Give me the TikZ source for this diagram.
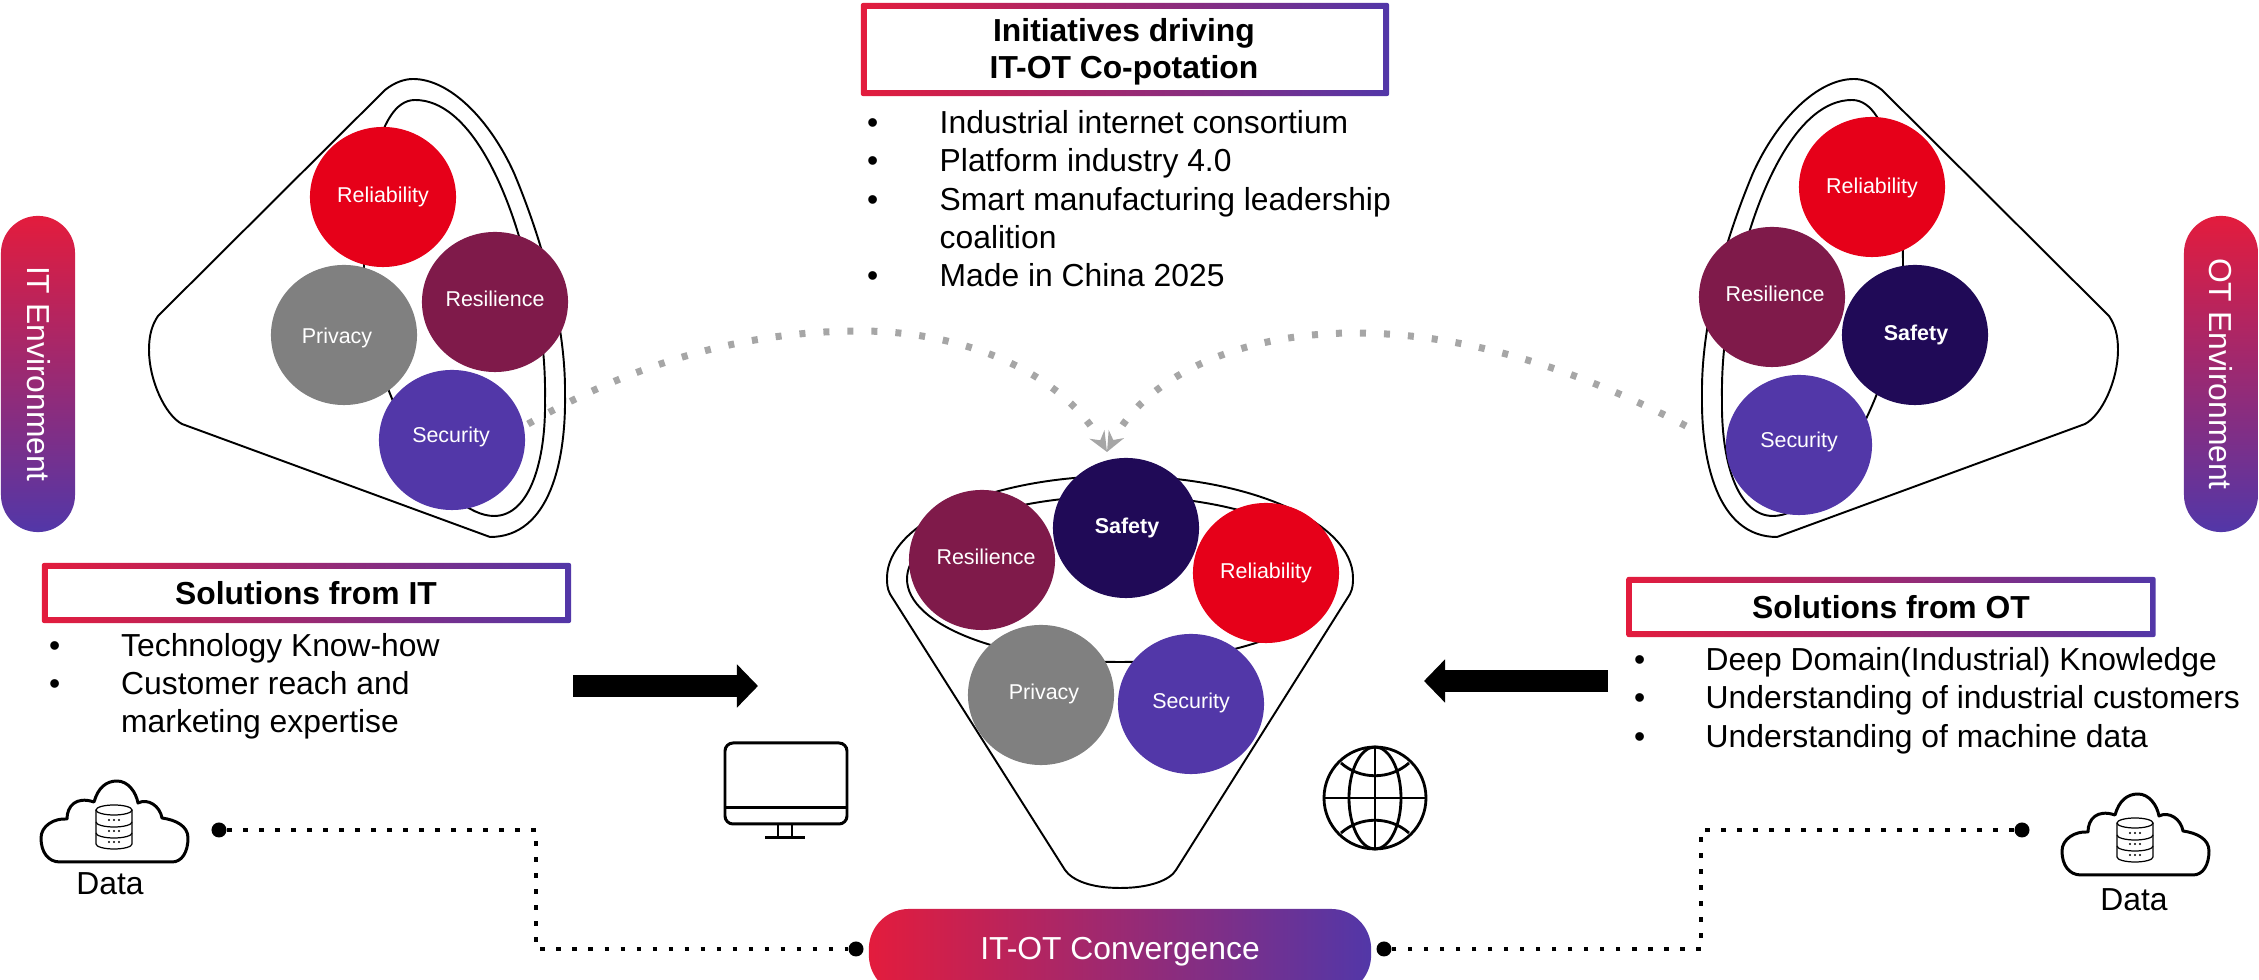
\documentclass[tikz,border=0pt]{standalone}
\usepackage{fontspec}
\setmainfont{Liberation Sans}
\usetikzlibrary{shapes.geometric,arrows.meta}

\definecolor{gradRed}{HTML}{E31C3D}
\definecolor{gradBlue}{HTML}{5237A8}
\definecolor{ballRed}{HTML}{E60019}
\definecolor{ballWine}{HTML}{7F1A4A}
\definecolor{ballNavy}{HTML}{200A57}
\definecolor{ballGrey}{HTML}{808080}
\definecolor{dotGrey}{HTML}{A6A6A6}

\begin{document}
\begin{tikzpicture}[x=.01cm,y=-.01cm]
	\tikzstyle{rim} = [draw=black,line width=.55pt,line join=round]
	\tikzstyle{ball} = [ellipse,minimum width=1.46cm,minimum height=1.4cm,inner sep=0pt]
	\tikzstyle{balltext} = [inner sep=0pt,text=white,font=\fontsize{6.1}{8}\selectfont]
	\tikzstyle{bodytext} = [inner sep=0pt,anchor=base west,font=\fontsize{9.05}{11}\selectfont]
	\tikzstyle{titletext} = [inner sep=0pt,anchor=base,font=\fontsize{9.05}{11}\selectfont\bfseries]
	\tikzstyle{frame} = [rectangle,rounded corners=.02cm,left color=gradRed,right color=gradBlue,inner sep=0pt]
	\tikzstyle{frameinner} = [rectangle,fill=white,inner sep=0pt]
	\tikzstyle{sidepill} = [rectangle,rounded corners=.37cm,top color=gradRed,bottom color=gradBlue,minimum width=.74cm,minimum height=3.16cm]
	\tikzstyle{sidetext} = [rotate=-90,text=white,font=\fontsize{9.05}{11}\selectfont]
	\tikzstyle{blackdot} = [circle,fill=black,inner sep=0pt,minimum size=.15cm]
	\tikzstyle{linkdots} = [line width=1.35pt,dash pattern=on .045cm off .115cm]
	\tikzstyle{curvedots} = [dotGrey,line width=.07cm,dash pattern=on .06cm off .18cm,-{Stealth[length=.2cm,width=.17cm]}]
	\tikzstyle{fatarrow} = [line width=.215cm,-{Triangle[length=.21cm,width=.42cm]}]
	\tikzset{
		ringcone/.pic={
			\draw[rim] (158,316) -- (385,90) .. controls (395,82) and (405,79) .. (413,79) .. controls (450,79) and (490,120) .. (514,173) .. controls (540,235) and (566,320) .. (565,395) .. controls (566,460) and (550,537) .. (490,537) -- (182,424) .. controls (165,415) and (149,380) .. (149,350) .. controls (149,335) and (152,325) .. (158,316) -- cycle;
			\draw[rim] (415,100) .. controls (470,100) and (505,190) .. (518,233) .. controls (535,290) and (546,340) .. (545,400) .. controls (546,460) and (530,516) .. (494,516) .. controls (470,516) and (440,490) .. (420,455) .. controls (385,395) and (364,330) .. (364,265) .. controls (364,200) and (375,100) .. (415,100) -- cycle;
		},
		datacloud/.pic={
			\draw[line width=.85pt,line join=round] (-54,40) .. controls (-66,40) and (-73,30) .. (-73,16) .. controls (-73,4) and (-60,-4) .. (-47,-3) .. controls (-47,-16) and (-38,-26) .. (-20,-20) .. controls (-16,-34) and (-8,-41) .. (3,-41) .. controls (14,-41) and (22,-30) .. (24,-19) .. controls (34,-24) and (46,-16) .. (48,-4) .. controls (62,-2) and (74,4) .. (74,16) .. controls (74,30) and (68,40) .. (58,40) -- cycle;
			% database
			\draw[line width=.35pt] (0,-12) ellipse (18 and 5);
			\draw[line width=.35pt] (-18,-12) -- (-18,22) arc[start angle=180,end angle=0,x radius=18,y radius=5] -- (18,-12);
			\foreach \y in {0,11}
				\draw[line width=.35pt] (-18,\y) arc[start angle=180,end angle=0,x radius=18,y radius=5];
			\foreach \y in {-2,9,20}
				\foreach \x in {-5,0,5}
					\fill (\x,\y) circle (1.1);
		}
	}
	\useasboundingbox (0,0) rectangle (2259,980);
	% curved links
	\coordinate (itStart) at (528,424);
	\coordinate (otStart) at (1686,426);
	\coordinate (cenTop) at (1107,452);
	\draw[curvedots] (itStart) .. controls (640,360) and (750,331) .. (860,331) .. controls (960,331) and (1060,370) .. (cenTop);
	\draw[curvedots] (otStart) .. controls (1560,360) and (1450,333) .. (1354,333) .. controls (1250,333) and (1150,370) .. (cenTop);
	% cones and funnel
	\pic at (0,0) {ringcone};
	\pic[xscale=-1] at (2267,0) {ringcone};
	\draw[rim] (1065,870) -- (890,594) .. controls (887,588) and (887,583) .. (887,578) .. controls (887,522) and (992,476) .. (1120,476) .. controls (1248,476) and (1353,522) .. (1353,578) .. controls (1353,583) and (1353,588) .. (1350,594) -- (1176,870) .. controls (1170,880) and (1150,888) .. (1120,888) .. controls (1090,888) and (1072,880) .. (1065,870) -- cycle;
	\draw[rim] (1120,579) ellipse (213 and 83);
	% balls
	\foreach \nm/\col/\x/\y/\dx/\dy/\txt in {
		itRel/ballRed/383/197/0/0/Reliability,
		itRes/ballWine/495/302/0/-3/Resilience,
		itPri/ballGrey/344/335/-7/3/Privacy,
		itSec/gradBlue/452/440/-1/-3/Security,
		otRel/ballRed/1872/187/0/1/Reliability,
		otRes/ballWine/1772/297/3/-3/Resilience,
		otSaf/ballNavy/1915/335/1/0/{\bfseries Safety},
		otSec/gradBlue/1799/445/0/-3/Security,
		cenRes/ballWine/982/560/4/-3/Resilience,
		cenSaf/ballNavy/1126/528/1/0/{\bfseries Safety},
		cenRel/ballRed/1266/573/0/0/Reliability,
		cenPri/ballGrey/1041/695/3/-1/Privacy,
		cenSec/gradBlue/1191/704/0/-1/Security}
	{
		\node[ball,fill=\col] (\nm) at (\x,\y) {};
		\node[balltext] at (\x+\dx,\y+\dy) {\txt};
	}
	% side pills
	\node[sidepill] (itEnv) at (38,374) {};
	\node[sidetext] at (39,374) {IT Environment};
	\node[sidepill] (otEnv) at (2221,374) {};
	\node[sidetext] at (otEnv) {OT Environment};
	% titles
	\node[frame,minimum width=5.28cm,minimum height=.93cm] (iniFrame) at (1125,49.5) {};
	\node[frameinner,minimum width=5.16cm,minimum height=.81cm] at (iniFrame) {};
	\node[frame,minimum width=5.29cm,minimum height=.6cm] (itFrame) at (306.5,593) {};
	\node[frameinner,minimum width=5.17cm,minimum height=.48cm] at (itFrame) {};
	\node[frame,minimum width=5.29cm,minimum height=.6cm] (otFrame) at (1891,607) {};
	\node[frameinner,minimum width=5.17cm,minimum height=.48cm] at (otFrame) {};
	\node[titletext] at (1124,42) {Initiatives driving};
	\node[titletext] at (1124,79) {IT-OT Co-potation};
	\node[titletext] at (306,605) {Solutions from IT};
	\node[titletext] at (1891,619) {Solutions from OT};
	% lists
	\foreach \y/\txt in {134/Industrial internet consortium,172/Platform industry 4.0,211/Smart manufacturing leadership,249/coalition,287/Made in China 2025}
		\node[bodytext] at (939,\y) {\txt};
	\foreach \y in {134,172,211,287}
		\node[bodytext] at (866.5,\y) {•};
	\foreach \y/\txt in {657/Technology Know-how,695/Customer reach and,733/marketing expertise}
		\node[bodytext] at (120.5,\y) {\txt};
	\foreach \y in {657,695}
		\node[bodytext] at (48.5,\y) {•};
	\foreach \y/\txt in {671/Deep Domain(Industrial) Knowledge,709/Understanding of industrial customers,748/Understanding of machine data}
		\node[bodytext] at (1705,\y) {\txt};
	\foreach \y in {671,709,748}
		\node[bodytext] at (1633.5,\y) {•};
	% big arrows
	\coordinate (itArrowA) at (573,686);
	\coordinate (itArrowB) at (758,686);
	\coordinate (otArrowA) at (1608,681);
	\coordinate (otArrowB) at (1424,681);
	\draw[fatarrow] (itArrowA) -- (itArrowB);
	\draw[fatarrow] (otArrowA) -- (otArrowB);
	% monitor
	\draw[line width=.85pt,rounded corners=.08cm] (725,743) rectangle (847,824);
	\draw[line width=.85pt] (725,808) -- (847,808);
	\draw[line width=.7pt] (778,824) -- (778,838) (792,824) -- (792,838);
	\draw[line width=.85pt] (765,838) -- (805,838);
	% globe
	\draw[line width=.8pt] (1375,798) circle (51);
	\draw[line width=.8pt] (1375,798) ellipse (26 and 51);
	\draw[line width=.8pt] (1375,747) -- (1375,849) (1324,798) -- (1426,798);
	\draw[line width=.8pt] (1341,763) .. controls (1360,780) and (1390,780) .. (1409,763);
	\draw[line width=.8pt] (1341,833) .. controls (1360,816) and (1390,816) .. (1409,833);
	% data clouds
	\pic at (114,822) {datacloud};
	\pic at (2135,835) {datacloud};
	\node[bodytext,anchor=center] (itData) at (110,884) {Data};
	\node[bodytext,anchor=center] (otData) at (2134,900) {Data};
	% convergence
	\node[rectangle,rounded corners=.4cm,left color=gradRed,right color=gradBlue,minimum width=5.02cm,minimum height=.86cm,text=white,font=\fontsize{9.05}{11}\selectfont] (conv) at (1120,952) {IT-OT Convergence};
	\node[blackdot] (itDot) at (219,830) {};
	\node[blackdot] (otDot) at (2022,830) {};
	\node[blackdot] (convL) at (856,949) {};
	\node[blackdot] (convR) at (1384,949) {};
	\coordinate (itBend) at (536,949);
	\coordinate (otBend) at (1701,949);
	\draw[linkdots] (itDot) -| (itBend) -- (convL);
	\draw[linkdots] (otDot) -| (otBend) -- (convR);
\end{tikzpicture}
\end{document}
